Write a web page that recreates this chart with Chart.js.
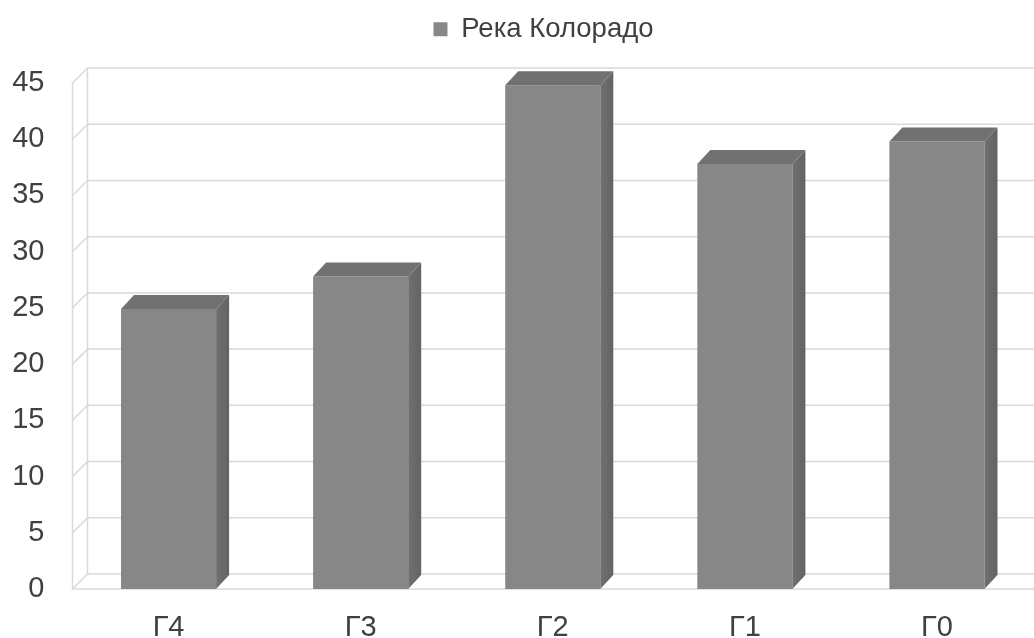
<!DOCTYPE html>
<html>
<head>
<meta charset="utf-8">
<script src="https://cdn.jsdelivr.net/npm/chart.js@4.4.1/dist/chart.umd.min.js"></script>
<style>
    html, body { margin: 0; padding: 0; background: #fff; }
    #wrap { width: 1034px; height: 638px; }
</style>
</head>
<body>
<div id="wrap"><canvas id="chart" width="1034" height="638"></canvas></div>
<script>
const categories = ['Г4', 'Г3', 'Г2', 'Г1', 'Г0'];
const river_values = [24.9, 27.8, 44.8, 37.8, 39.8];
const y_ticks = [0, 5, 10, 15, 20, 25, 30, 35, 40, 45];
const series_name = 'Река Колорадо';

// depth of the fake 3d walls / bars, px
const wallDx = 15, wallDy = 15;
const barDx = 13, barDy = 14;
const gridColor = '#d9d9d9';
const textColor = '#404040';

const walls3d = {
    id: 'walls3d',
    beforeDatasetsDraw(chart) {
        const ctx = chart.ctx;
        const area = chart.chartArea;
        const y = chart.scales.y;
        const right = chart.width + 20;
        ctx.save();
        ctx.strokeStyle = gridColor;
        ctx.lineWidth = 1.5;
        y_ticks.forEach(v => {
            const py = y.getPixelForValue(v);
            ctx.beginPath();
            ctx.moveTo(area.left, py);
            ctx.lineTo(area.left + wallDx, py - wallDy);
            ctx.lineTo(right, py - wallDy);
            ctx.stroke();
        });
        // back wall edge + side wall front edge
        const top = y.getPixelForValue(45), bottom = y.getPixelForValue(0);
        ctx.beginPath();
        ctx.moveTo(area.left + wallDx, top - wallDy);
        ctx.lineTo(area.left + wallDx, bottom - wallDy);
        ctx.moveTo(area.left, top);
        ctx.lineTo(area.left, bottom);
        // floor front edge
        ctx.moveTo(area.left, bottom);
        ctx.lineTo(area.right, bottom);
        ctx.lineTo(area.right + wallDx, bottom - wallDy);
        ctx.stroke();
        ctx.restore();
    },
    afterDatasetsDraw(chart) {
        const ctx = chart.ctx;
        const meta = chart.getDatasetMeta(0);
        ctx.save();
        meta.data.forEach(bar => {
            const p = bar.getProps(['x', 'y', 'base', 'width'], true);
            const L = p.x - p.width / 2, R = p.x + p.width / 2;
            // top face
            ctx.fillStyle = '#717171';
            ctx.beginPath();
            ctx.moveTo(L, p.y);
            ctx.lineTo(L + barDx, p.y - barDy);
            ctx.lineTo(R + barDx, p.y - barDy);
            ctx.lineTo(R, p.y);
            ctx.closePath();
            ctx.fill();
            // side face
            const g = ctx.createLinearGradient(R, 0, R + barDx, 0);
            g.addColorStop(0, '#707070');
            g.addColorStop(1, '#636363');
            ctx.fillStyle = g;
            ctx.beginPath();
            ctx.moveTo(R, p.y);
            ctx.lineTo(R + barDx, p.y - barDy);
            ctx.lineTo(R + barDx, p.base - barDy);
            ctx.lineTo(R, p.base);
            ctx.closePath();
            ctx.fill();
        });
        ctx.restore();
    }
};

// extra room under the legend, and shift it over the plot
const legendGap = {
    id: 'legendGap',
    beforeInit(chart) {
        const fit = chart.legend.fit;
        chart.legend.fit = function () {
            fit.bind(chart.legend)();
            this.height += 30;
        };
    },
    afterLayout(chart) {
        chart.legend.left += 27;
        chart.legend.right += 27;
    }
};

const data = {
    labels: categories,
    datasets: [
        {
            label: series_name,
            data: river_values,
            backgroundColor: '#878787',
            borderWidth: 0,
            categoryPercentage: 1,
            barPercentage: 0.495,
        }
    ]
};

const config = {
    type: 'bar',
    data: data,
    options: {
        responsive: false,
        animation: false,
        layout: {
            padding: { top: 5.5, right: 1, left: 0, bottom: 0 }
        },
        plugins: {
            legend: {
                display: true,
                position: 'top',
                labels: {
                    boxWidth: 14,
                    boxHeight: 14,
                    padding: 10,
                    color: textColor,
                    font: { family: 'Liberation Sans', size: 27.5 }
                }
            },
            tooltip: { enabled: false }
        },
        scales: {
            x: {
                grid: { display: false, drawTicks: false },
                border: { display: false },
                ticks: {
                    padding: 22,
                    color: textColor,
                    font: { family: 'Liberation Sans', size: 29 }
                },
                afterFit: s => { s.height = 49; }
            },
            y: {
                min: 0,
                max: 45,
                grid: { display: false, drawTicks: false },
                border: { display: false },
                ticks: {
                    stepSize: 5,
                    padding: 28,
                    color: textColor,
                    font: { family: 'Liberation Sans', size: 29 }
                },
                afterFit: s => { s.width = 72.5; }
            }
        }
    },
    plugins: [walls3d, legendGap]
};

let myChart = new Chart(document.getElementById('chart'), config);
</script>
</body>
</html>
